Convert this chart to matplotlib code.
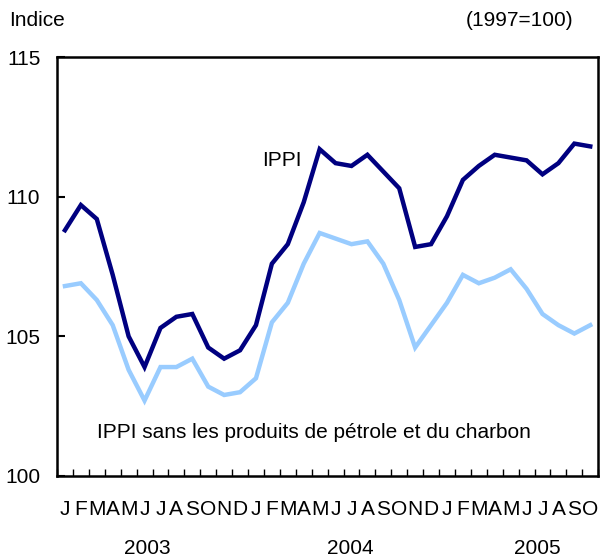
import numpy as np
import matplotlib.pyplot as plt

plt.rcParams["font.family"] = ["Liberation Sans", "DejaVu Sans"]

# monthly values, Jan 2003 to Oct 2005
month_labels = list("JFMAMJJASOND") * 2 + list("JFMAMJJASO")
years = ["2003", "2004", "2005"]
year_pos = [5.7, 18.4, 30.2]

ippi = [108.8, 109.7, 109.2, 107.2, 105.0, 103.9, 105.3, 105.7, 105.8, 104.6, 104.2, 104.5,
        105.4, 107.6, 108.3, 109.8, 111.7, 111.2, 111.1, 111.5, 110.9, 110.3, 108.2, 108.3,
        109.3, 110.6, 111.1, 111.5, 111.4, 111.3, 110.8, 111.2, 111.9, 111.8]
ippi_sans = [106.8, 106.9, 106.3, 105.4, 103.8, 102.7, 103.9, 103.9, 104.2, 103.2, 102.9, 103.0,
             103.5, 105.5, 106.2, 107.6, 108.7, 108.5, 108.3, 108.4, 107.6, 106.3, 104.6, 105.4,
             106.2, 107.2, 106.9, 107.1, 107.4, 106.7, 105.8, 105.4, 105.1, 105.4]

x = np.arange(len(ippi)) + 0.5
fs = 15

fig = plt.figure(figsize=(6, 5.59), dpi=100)
ax = fig.add_axes([0.095, 0.1485, 0.902, 0.7495])

ax.plot(x, ippi, color="#000080", lw=3.2, solid_joinstyle="miter")
ax.plot(x, ippi_sans, color="#99ccff", lw=3.2, solid_joinstyle="miter")

ax.set_xlim(0, len(ippi))
ax.set_ylim(100, 115)
ax.set_yticks([100, 105, 110, 115])
ax.tick_params(axis="y", direction="in", length=6, width=1.5, labelsize=fs, pad=12)

# month ticks between months, labels under each month
ax.set_xticks(np.arange(0, len(ippi) + 1))
ax.set_xticklabels([])
ax.set_xticks(x, minor=True)
ax.set_xticklabels(month_labels, minor=True, fontsize=fs)
ax.tick_params(axis="x", which="major", direction="in", length=5, width=1)
ax.tick_params(axis="x", which="minor", length=0, pad=17)

for s in ax.spines.values():
    s.set_linewidth(1.8)

# year labels
for xp, yr in zip(year_pos, years):
    ax.text(xp, -0.187, yr, transform=ax.get_xaxis_transform(),
            ha="center", va="baseline", fontsize=fs)

ax.text(14.15, 111.3, "IPPI", fontsize=fs, ha="center", va="center")
ax.text(2.5, 101.55, "IPPI sans les produits de pétrole et du charbon",
        fontsize=fs, ha="left", va="center")

fig.text(0.015, 0.964, "Indice", fontsize=fs, ha="left", va="center")
fig.text(0.956, 0.964, "(1997=100)", fontsize=fs, ha="right", va="center")

fig.savefig("out.png", dpi=100)
